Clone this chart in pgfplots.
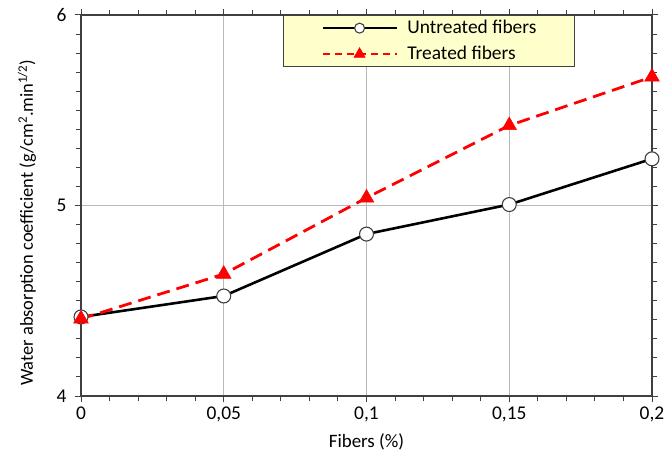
\documentclass[border=0pt]{standalone}
\usepackage{pgfplots}
\pgfplotsset{compat=1.18}
\usepackage{fontspec}
\setmainfont{Carlito}
\definecolor{legbg}{RGB}{255,255,204}
\definecolor{gridc}{RGB}{185,185,185}
\definecolor{axc}{RGB}{64,64,64}
\begin{document}
\begin{tikzpicture}[x=1bp,y=1bp]
\begin{axis}[
  name=a,
  scale only axis,
  width=571bp, height=381bp,
  xmin=0, xmax=0.2, ymin=4, ymax=6,
  xtick={0,0.05,0.1,0.15,0.2},
  xticklabels={0,{0,05},{0,1},{0,15},{0,2}},
  ytick={4,5,6},
  minor x tick num=4,
  minor y tick num=9,
  tick align=outside,
  major tick length=6bp,
  minor tick length=5bp,
  tick style={axc, line width=1pt},
  xmajorgrids, ymajorgrids,
  major grid style={gridc, line width=0.8pt},
  axis line style={axc, line width=1.6pt},
  tick label style={font=\fontsize{19.5}{22}\selectfont},
  yticklabel style={xshift=-5bp},
  xticklabel style={yshift=-1bp},
  /pgf/number format/assume math mode=true,
  xlabel={Fibers (\%)},
  ylabel={Water absorption coefficient (g/cm\textsuperscript{2}.min\textsuperscript{1/2})},
  xlabel style={font=\fontsize{19}{22}\selectfont, at={(axis description cs:0.5,0)}, yshift=-46bp, anchor=center},
  ylabel style={font=\fontsize{18.5}{22}\selectfont, at={(axis description cs:-0.0946,0.455)}, anchor=center},
  legend style={at={(0.354,1)}, anchor=north west, fill=legbg, draw=axc, line width=1.3pt,
    font=\fontsize{19.5}{22}\selectfont, row sep=7bp, column sep=10bp,
    inner xsep=38bp, inner ysep=3bp,
    nodes={inner xsep=0pt, inner ysep=1.5bp, text height=13bp, text depth=3bp}},
  legend cell align=left,
  legend image code/.code={
    \draw[mark repeat=2,mark phase=2] plot coordinates {(0bp,0bp) (37bp,0bp) (74bp,0bp)};
  },
  clip=false,
]
\addplot[black, line width=2.6pt, mark=*, mark size=7pt,
  mark options={fill=white, line width=1.1pt, solid, draw=axc},
  legend image post style={line width=1.3pt, mark size=5pt}]
  coordinates {(0,4.415) (0.05,4.525) (0.1,4.85) (0.15,5.005) (0.2,5.245)};
\addlegendentry{Untreated fibers}
\addplot[red, dashed, dash pattern=on 13bp off 7bp, line width=2.8pt, mark=triangle*, mark size=8.5pt,
  mark options={solid, fill=red, line width=0.5pt},
  legend image post style={line width=1.6pt, mark size=6.5pt, dash pattern=on 7bp off 5bp}]
  coordinates {(0,4.405) (0.05,4.64) (0.1,5.04) (0.15,5.42) (0.2,5.675)};
\addlegendentry{Treated fibers}
\end{axis}
\pgfresetboundingbox
\path ([shift={(-81bp,-58bp)}]a.south west) rectangle ([shift={(13bp,15bp)}]a.north east);
\end{tikzpicture}
\end{document}
